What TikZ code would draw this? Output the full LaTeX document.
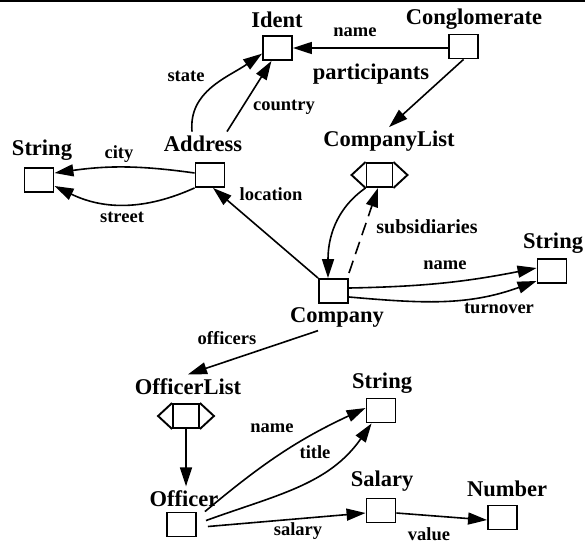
\documentclass[tikz,border=0pt]{standalone}
\usepackage{fontspec}
\setmainfont{Liberation Serif}
\usetikzlibrary{arrows.meta}
\usetikzlibrary{calc}

\newcommand{\clsfont}{\fontsize{22.5}{24}\selectfont\bfseries}
\newcommand{\relfont}{\fontsize{18.5}{20}\selectfont\bfseries}

\begin{document}
\begin{tikzpicture}[x=10pt, y=10pt, line width=1.6pt,
    box/.style={draw, line width=1.9pt, minimum width=29pt, minimum height=24pt, inner sep=0pt},
    lbox/.style={box, minimum width=26pt},
    cls/.style={anchor=base, inner sep=3pt, font=\clsfont},
    rel/.style={anchor=base, inner sep=1pt, font=\relfont},
    arr/.style={-{Triangle[length=19pt, width=12pt]}}]

    \useasboundingbox (0,0) rectangle (58.5,-54.3);
    \draw[line width=1.5pt] (0,-0.08) -- (58.5,-0.08);

    % classes
    \node[box] (ident) at (27.75,-4.8) {};
    \node[cls] (ident-t) at (27.7,-2.75) {Ident};
    \node[box] (congl) at (46.35,-4.65) {};
    \node[cls] (congl-t) at (47.4,-2.45) {Conglomerate};
    \node[box] (addr) at (21.0,-17.5) {};
    \node[cls] (addr-t) at (20.3,-15.1) {Address};
    \node[box] (strA) at (3.9,-18.0) {};
    \node[cls] (strA-t) at (4.2,-15.5) {String};
    \node[lbox] (clist) at (37.95,-17.5) {};
    \node[cls] (clist-t) at (38.9,-14.65) {CompanyList};
    \node[box] (comp) at (33.35,-29.1) {};
    \node[cls] (comp-t) at (33.7,-32.2) {Company};
    \node[box] (strB) at (55.2,-27.1) {};
    \node[cls] (strB-t) at (55.3,-24.8) {String};
    \node[lbox] (olist) at (18.6,-41.6) {};
    \node[cls] (olist-t) at (18.8,-39.4) {OfficerList};
    \node[box] (offc) at (18.15,-52.45) {};
    \node[cls] (offc-t) at (18.4,-50.6) {Officer};
    \node[box] (strC) at (38.1,-41.05) {};
    \node[cls] (strC-t) at (38.2,-38.8) {String};
    \node[box] (sal) at (38.1,-51.05) {};
    \node[cls] (sal-t) at (38.2,-48.6) {Salary};
    \node[box] (num) at (50.25,-51.75) {};
    \node[cls] (num-t) at (50.7,-49.6) {Number};

    \foreach \l in {clist,olist}
        \draw[line width=1.9pt] (\l.north west) -- ([xshift=-14pt]\l.west) -- (\l.south west)
            (\l.north east) -- ([xshift=14pt]\l.east) -- (\l.south east);

    % relations
    \draw[arr] (congl.west |- ident) -- (ident);
    \draw[arr] (congl.south) -- (clist-t.north);
    \draw[arr] ([xshift=-11pt]addr-t.north) to[out=95,in=215] (ident.200);
    \draw[arr] ([xshift=24pt]addr-t.north) -- (ident.-115);
    \draw[arr] ([yshift=2pt]addr.west) to[bend right=8] ([yshift=7pt]strA.east);
    \draw[arr] (addr.south west) to[bend left=25] ([yshift=-6pt]strA.east);
    \draw[arr] (comp.north west) -- ([xshift=3pt]addr.south);
    \draw[arr] (clist.south west) to[out=215,in=90] ([xshift=-5.5pt]comp.north);
    \draw[arr, dash pattern=on 13pt off 7pt] ([yshift=5pt]comp.north east) -- ([xshift=-1.5pt]clist.south);
    \draw[arr] ([yshift=3pt]comp.east) to[bend right=5] ([yshift=3pt]strB.west);
    \draw[arr] ([yshift=-6pt]comp.east) to[out=-5,in=200] ([yshift=-10pt]strB.west);
    \draw[arr] ([xshift=-19pt]comp-t.south) -- (olist-t.north);
    \draw[arr] (olist.south) -- (olist.south |- offc-t.north);
    \draw[arr] ([xshift=8pt]offc.north east) to[out=40,in=205] ([yshift=2.5pt]strC.west);
    \draw[arr] ([xshift=9pt,yshift=-9pt]offc.north east) to[out=20,in=235] ([xshift=6pt]strC.south west);
    \draw[arr] ([xshift=11pt,yshift=-2pt]offc.east) -- ([yshift=-2.5pt]sal.west);
    \draw[arr] ([yshift=-2.5pt]sal.east) -- ([yshift=-2.5pt]num.west);

    \node[rel] (r-name1) at (35.5,-3.7) {name};
    \node[rel, font=\clsfont] (r-part) at (37.1,-7.9) {participants};
    \node[rel] (r-state) at (18.6,-8.1) {state};
    \node[rel] (r-country) at (28.4,-11.0) {country};
    \node[rel] (r-city) at (11.9,-15.8) {city};
    \node[rel] (r-street) at (12.2,-22.2) {street};
    \node[rel] (r-loc) at (27.1,-20.0) {location};
    \node[rel, font=\fontsize{20}{22}\selectfont\bfseries] (r-subs) at (42.7,-23.3) {subsidiaries};
    \node[rel] (r-name2) at (44.5,-26.9) {name};
    \node[rel] (r-turn) at (49.9,-31.3) {turnover};
    \node[rel] (r-off) at (22.7,-34.4) {officers};
    \node[rel] (r-name3) at (27.2,-43.2) {name};
    \node[rel] (r-title) at (31.5,-45.8) {title};
    \node[rel] (r-sal) at (29.8,-53.5) {salary};
    \node[rel] (r-value) at (42.9,-54.0) {value};

\end{tikzpicture}
\end{document}
